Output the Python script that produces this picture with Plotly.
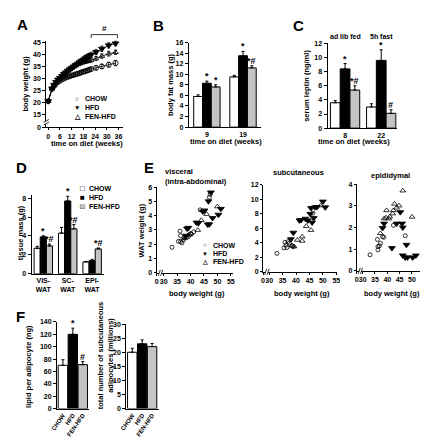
import plotly.graph_objects as go

W, H = 428, 440
FAM = "Liberation Sans, Arial, sans-serif"

# ---------------- data ----------------
GROUPS = ["CHOW", "HFD", "FEN-HFD"]
COLORS = ["white", "black", "#c4c4c4"]

# A: body weight over time
a_weeks = [0, 2, 3, 4, 5, 6, 7, 8, 9, 10, 11, 12, 13, 14, 15, 16, 17, 18, 19, 20, 21, 22, 24.5, 27.5, 31, 34.5]
a_chow = [20.5, 25.6, 26.8, 27.8, 28.5, 29.0, 29.5, 29.9, 30.3, 30.6, 30.9, 31.2, 31.4, 31.7, 31.9, 32.2, 32.5, 32.8, 33.0, 33.3, 33.6, 33.9, 34.4, 35.0, 35.7, 36.4]
a_hfd = [20.5, 25.8, 27.3, 28.5, 29.5, 30.2, 31.0, 31.8, 32.5, 33.2, 33.8, 34.4, 35.0, 35.6, 36.1, 36.7, 37.3, 37.8, 38.3, 38.9, 39.4, 39.9, 41.0, 42.4, 43.8, 44.6]
a_fen = [20.5, 25.7, 27.1, 28.3, 29.2, 30.0, 30.8, 31.6, 32.3, 33.0, 33.6, 34.2, 34.8, 35.3, 35.8, 36.2, 36.5, 36.8, 37.0, 37.2, 37.4, 37.6, 38.3, 39.3, 40.3, 40.9]
a_chow_err = [0.3, 0.4, 0.4, 0.4, 0.4, 0.5, 0.5, 0.5, 0.5, 0.5, 0.6, 0.6, 0.6, 0.6, 0.7, 0.7, 0.7, 0.7, 0.8, 0.8, 0.8, 0.8, 0.9, 0.9, 1.0, 1.1]
a_hfd_err = [0.3, 0.4, 0.4, 0.5, 0.5, 0.5, 0.6, 0.6, 0.7, 0.7, 0.7, 0.8, 0.8, 0.8, 0.9, 0.9, 1.0, 1.2, 1.2, 1.1, 1.0, 1.0, 1.0, 1.1, 1.1, 1.0]
a_fen_err = [0.3, 0.4, 0.4, 0.4, 0.5, 0.5, 0.5, 0.5, 0.6, 0.6, 0.6, 0.6, 0.7, 0.7, 0.7, 0.7, 0.8, 0.8, 0.8, 0.8, 0.8, 0.8, 0.9, 0.9, 1.0, 0.9]
a_xticks = [0, 6, 12, 18, 24, 30, 36]
a_yticks = [15, 20, 25, 30, 35, 40, 45]
a_sig_span = [22, 35.5]

# B: body fat mass
b_weeks = ["9", "19"]
b_vals = [[5.8, 9.5], [8.3, 13.5], [7.6, 11.2]]
b_errs = [[0.3, 0.3], [0.4, 0.8], [0.4, 0.4]]
b_sigs = [["", ""], ["*", "*"], ["*", "*#"]]

# C: serum leptin
c_weeks = ["8", "22"]
c_conditions = ["ad lib fed", "5h fast"]
c_vals = [[3.6, 3.0], [8.4, 9.6], [5.4, 2.1]]
c_errs = [[0.3, 0.45], [0.75, 1.5], [0.6, 0.5]]
c_sigs = [["", ""], ["*", "*"], ["*#", "#"]]

# D: tissue mass
d_tissues = ["VIS-<br>WAT", "SC-<br>WAT", "EPI-<br>WAT"]
d_vals = [[2.7, 4.3, 1.25], [3.9, 7.7, 1.4], [2.95, 4.75, 2.63]]
d_errs = [[0.2, 0.6, 0.06], [0.12, 0.5, 0.12], [0.2, 0.45, 0.1]]
d_sigs = [["", "", ""], ["*", "*", ""], ["*#", "*#", "*#"]]

# E: WAT weight vs body weight
e_titles = ["visceral<br>(intra-abdominal)", "subcutaneous", "epididymal"]
ev_chow_x = [33.1, 35.5, 36.1, 36.3, 36.3, 36.8, 37.3, 37.8, 40.3, 41.2, 43.6, 47.0, 47.3]
ev_chow_y = [1.79, 2.2, 2.92, 2.6, 2.19, 2.1, 2.3, 2.45, 2.71, 2.87, 4.41, 5.29, 5.5]
ev_hfd_x = [38.3, 38.7, 39.2, 42.2, 42.9, 44.6, 45.2, 46.4, 47.0, 48.2, 46.7, 47.6, 51.3, 50.4]
ev_hfd_y = [2.6, 3.1, 3.15, 3.52, 3.48, 4.3, 4.37, 3.38, 3.4, 3.84, 5.01, 5.63, 4.48, 4.07]
ev_fen_x = [37.9, 38.6, 39.0, 39.5, 40.0, 42.7, 44.0, 46.0, 50.0]
ev_fen_y = [2.41, 2.5, 2.6, 2.69, 2.75, 2.99, 3.68, 4.11, 4.64]

es_chow_x = [32.9, 35.5, 35.9, 36.3, 36.6, 37.0, 37.5, 38.5, 39.0, 46.3]
es_chow_y = [2.54, 3.3, 4.08, 3.7, 3.35, 4.15, 3.94, 3.6, 3.45, 8.1]
es_hfd_x = [38.1, 39.0, 41.3, 41.9, 43.5, 44.4, 45.3, 45.6, 46.0, 46.6, 47.1, 47.8, 50.0, 50.9]
es_hfd_y = [4.5, 5.4, 7.1, 7.15, 7.33, 7.1, 8.0, 8.8, 6.8, 7.43, 8.9, 8.95, 9.7, 8.9]
es_fen_x = [38.5, 39.3, 40.5, 42.3, 42.3, 43.8, 45.6, 49.2]
es_fen_y = [3.6, 3.49, 4.39, 4.26, 4.85, 6.3, 5.75, 9.15]

ee_chow_x = [33.0, 36.0, 36.2, 36.2, 36.8, 37.2, 38.1, 38.6, 42.5, 47.3]
ee_chow_y = [0.74, 1.45, 1.12, 0.97, 1.15, 1.27, 1.58, 1.55, 2.1, 1.62]
ee_hfd_x = [38.1, 38.7, 41.9, 43.8, 45.3, 46.0, 46.3, 47.8, 46.3, 47.3, 48.2, 50.3, 51.6]
ee_hfd_y = [1.98, 2.18, 1.05, 2.18, 2.71, 2.18, 2.0, 1.2, 0.71, 0.62, 0.62, 0.62, 0.71]
ee_fen_x = [37.2, 38.7, 39.5, 39.7, 40.6, 41.0, 42.2, 42.5, 42.9, 43.8, 44.8, 46.3, 50.1]
ee_fen_y = [1.73, 2.41, 2.45, 2.79, 2.41, 2.5, 2.64, 2.79, 3.09, 2.91, 3.01, 3.7, 2.49]
e_xticks = [30, 35, 40, 45, 50, 55]

# F: adipocytes
f_lipid = [70, 120, 71]
f_lipid_err = [9, 10, 5]
f_lipid_sig = ["", "*", "#"]
f_number = [20.1, 23.1, 22.1]
f_number_err = [1.4, 1.4, 1.1]

# ---------------- helpers ----------------
def xd(p0, p1):
    return [p0 / W, p1 / W]

def yd(top, bot):
    return [1 - bot / H, 1 - top / H]

def PX(x):
    return x / W

def PY(y):
    return 1 - y / H

TICKF = dict(size=7, family=FAM, color="black", weight="bold")

def axis(domain, rng, anchor, **kw):
    d = dict(domain=domain, range=rng, anchor=anchor, showline=True, linecolor="black",
             linewidth=1, ticks="outside", ticklen=3, tickwidth=1, tickcolor="black",
             showgrid=False, zeroline=False, tickfont=TICKF, fixedrange=True, tickangle=0)
    d.update(kw)
    return d

fig = go.Figure()
layout_axes = {}

def set_axes(n, xdom, ydom, xr, yr, xkw=None, ykw=None):
    xk = "xaxis" if n == 1 else f"xaxis{n}"
    yk = "yaxis" if n == 1 else f"yaxis{n}"
    xa = "x" if n == 1 else f"x{n}"
    ya = "y" if n == 1 else f"y{n}"
    layout_axes[xk] = axis(xdom, xr, ya, **(xkw or {}))
    layout_axes[yk] = axis(ydom, yr, xa, **(ykw or {}))
    return xa, ya

annos = []
shapes = []

def text(x, y, s, size=7.5, angle=0, xanchor="center", yanchor="middle", color="black", **kw):
    annos.append(dict(x=PX(x), y=PY(y), xref="paper", yref="paper", text=s, showarrow=False,
                      textangle=angle, xanchor=xanchor, yanchor=yanchor,
                      font=dict(size=size, family=FAM, color=color, weight="bold"), **kw))

def grouped_bars(xa, ya, vals, errs, sigs, width):
    for i in range(3):
        off = -1.5 * width + i * width
        n = len(vals[i])
        fig.add_trace(go.Bar(
            x=list(range(n)), y=vals[i], width=width, offset=off,
            marker=dict(color=COLORS[i], line=dict(color="black", width=1)),
            error_y=dict(type="data", array=errs[i], arrayminus=[0] * n, symmetric=False,
                         color="black", thickness=1, width=1.5),
            xaxis=xa, yaxis=ya, showlegend=False, name=GROUPS[i]))
        for j, s in enumerate(sigs[i]):
            if s:
                annos.append(dict(x=j + off + width / 2, y=vals[i][j] + errs[i][j], xref=xa, yref=ya,
                                  text=s, showarrow=False, yanchor="bottom", yshift=-2,
                                  font=dict(size=9, family=FAM, color="black", weight="bold")))

def break_marks(xref, yref, x0, x1, y0, y1, dx, dy):
    # two parallel slanted strokes marking an axis break
    for k in range(2):
        shapes.append(dict(type="line", xref=xref, yref=yref,
                           x0=x0 + k * dx, x1=x1 + k * dx, y0=y0 + k * dy, y1=y1 + k * dy,
                           line=dict(color="black", width=0.8), layer="above"))

# ---------------- Panel A ----------------
a_ylo = 15 - 13 / 2.433
xa, ya = set_axes(1, xd(33, 112), yd(29, 117), [-1, 38.5], [a_ylo, 45.8],
                  xkw=dict(tickvals=a_xticks, ticklen=2),
                  ykw=dict(tickvals=[a_ylo] + a_yticks, ticktext=["0"] + [str(v) for v in a_yticks]))
a_series = [(a_chow, a_chow_err, "circle-open", 5), (a_hfd, a_hfd_err, "triangle-down", 6),
            (a_fen, a_fen_err, "triangle-up-open", 5)]
for (vals, errs, sym, sz) in a_series:
    fig.add_trace(go.Scatter(
        x=a_weeks, y=vals, mode="lines+markers",
        line=dict(color="black", width=0.8),
        marker=dict(symbol=sym, size=sz, color="black", line=dict(color="black", width=0.8)),
        error_y=dict(type="data", array=errs, color="black", thickness=0.8, width=1.5),
        xaxis=xa, yaxis=ya, showlegend=False, cliponaxis=False))
# significance bracket
shapes.append(dict(type="line", xref="x", yref="paper", x0=a_sig_span[0], x1=a_sig_span[1],
                   y0=PY(23), y1=PY(23), line=dict(color="black", width=0.8)))
for xv in a_sig_span:
    shapes.append(dict(type="line", xref="x", yref="paper", x0=xv, x1=xv,
                       y0=PY(23), y1=PY(26.5), line=dict(color="black", width=0.8)))
annos.append(dict(x=sum(a_sig_span) / 2, y=PY(23), xref="x", yref="paper", text="#", showarrow=False,
                  yanchor="bottom", font=dict(size=8, family=FAM, color="black", weight="bold")))
# y-axis break
shapes.append(dict(type="rect", xref="x domain", yref="y", x0=-0.02, x1=0.02,
                   y0=a_ylo + 1.3, y1=a_ylo + 2.5, line=dict(width=0), fillcolor="white", layer="above"))
break_marks("x domain", "y", -0.035, 0.035, a_ylo + 0.9, a_ylo + 2.1, 0, 1.1)
text(12, 73, "body weight (g)", size=7.5, angle=-90)
text(75, 134, "time on diet (weeks)", size=7.5)
text(65, 88, "○", size=6.5)
text(65, 97, "▼", size=6.5)
text(65, 106, "△", size=6.5)
text(71, 88, "CHOW", size=7, xanchor="left")
text(71, 97, "HFD", size=7, xanchor="left")
text(71, 106, "FEN-HFD", size=7, xanchor="left")

# ---------------- Panel B ----------------
bw = 9 / 37
xa, ya = set_axes(2, xd(179, 253), yd(31, 117), [-0.5, 1.5], [0, 16],
                  xkw=dict(tickvals=[0, 1], ticktext=b_weeks, ticks=""),
                  ykw=dict(dtick=2))
grouped_bars(xa, ya, b_vals, b_errs, b_sigs, bw)
text(161, 74, "body fat mass (g)", size=7.5, angle=-90)
text(217, 132, "time on diet (weeks)", size=7.5)

# ---------------- Panel C ----------------
cw = 10 / 37
xa, ya = set_axes(3, xd(321, 392), yd(32, 118), [-18 / 37, 53 / 37], [0, 12],
                  xkw=dict(tickvals=[0, 1], ticktext=c_weeks, ticks=""),
                  ykw=dict(dtick=2))
grouped_bars(xa, ya, c_vals, c_errs, c_sigs, cw)
for j, cond in enumerate(c_conditions):
    annos.append(dict(x=j, y=PY(19), xref="x3", yref="paper", text=cond, showarrow=False,
                      font=dict(size=7, family=FAM, color="black", weight="bold")))
text(300, 75, "serum leptin (ng/ml)", size=7.5, angle=-90)
text(348, 132, "time on diet (weeks)", size=7.5)

# ---------------- Panel D ----------------
dw = 6.3 / 25
xa, ya = set_axes(4, xd(18, 92), yd(186, 266), [-12 / 25, 62 / 25], [0, 8.33],
                  xkw=dict(tickvals=[0, 1, 2], ticktext=d_tissues, ticks=""),
                  ykw=dict(dtick=2))
grouped_bars(xa, ya, d_vals, d_errs, d_sigs, dw)
text(7, 224, "tissue mass (g)", size=7.5, angle=-90)
text(70.5, 179, "□", size=8)
text(70.5, 189, "■", size=8)
text(70.5, 198, "■", size=8, color="#c4c4c4")
text(70.5, 198, "□", size=8)
text(75, 179, "CHOW", size=7, xanchor="left")
text(75, 189, "HFD", size=7, xanchor="left")
text(75, 198, "FEN-HFD", size=7, xanchor="left")

# ---------------- Panel E ----------------
e_specs = [
    (5, (146, 224), (178, 265), 2.75, 153.25, [0, 6], 1,
     [(ev_chow_x, ev_chow_y), (ev_hfd_x, ev_hfd_y), (ev_fen_x, ev_fen_y)]),
    (6, (255, 331), (175.7, 264), 2.75, 261.25, [0, 12], 2,
     [(es_chow_x, es_chow_y), (es_hfd_x, es_hfd_y), (es_fen_x, es_fen_y)]),
    (7, (351, 420), (175, 263), 2.52, 357, [0, 4], 1,
     [(ee_chow_x, ee_chow_y), (ee_hfd_x, ee_hfd_y), (ee_fen_x, ee_fen_y)]),
]
e_markers = [("circle-open", 4), ("triangle-down", 6), ("triangle-up-open", 5)]
for (n, (l, r), (t, b), ppu, p30, yr, dt, series) in e_specs:
    lo = 30 - (p30 - l) / ppu
    hi = 30 + (r - p30) / ppu
    xa, ya = set_axes(n, xd(l, r), yd(t, b), [lo, hi], yr,
                      xkw=dict(tickvals=[lo] + e_xticks, ticktext=["0"] + [str(v) for v in e_xticks], ticklen=2),
                      ykw=dict(dtick=dt, ticklen=2))
    for (xs, ys), (sym, sz) in zip(series, e_markers):
        fig.add_trace(go.Scatter(x=xs, y=ys, mode="markers",
                                 marker=dict(symbol=sym, size=sz, color="black", line=dict(color="black", width=0.8)),
                                 xaxis=xa, yaxis=ya, showlegend=False, cliponaxis=False))
    shapes.append(dict(type="rect", xref=xa, yref=f"{ya} domain", x0=lo + 0.9, x1=lo + 1.9,
                       y0=-0.02, y1=0.02, line=dict(width=0), fillcolor="white", layer="above"))
    break_marks(xa, f"{ya} domain", lo + 0.6, lo + 1.4, -0.035, 0.035, 0.9, 0)
    text((l + r) / 2 + 2, 286, "body weight (g)", size=7.5)

text(153, 167, e_titles[0], size=7.5, xanchor="left", align="left")
text(291, 163, e_titles[1], size=7.5)
text(385, 166, e_titles[2], size=7.5)
text(131, 222, "WAT weight (g)", size=7.5, angle=-90)
text(196, 237, "○", size=6)
text(196, 245.5, "▼", size=6)
text(196, 254, "△", size=6)
text(202, 237, "CHOW", size=7, xanchor="left")
text(202, 245.5, "HFD", size=7, xanchor="left")
text(202, 254, "FEN-HFD", size=7, xanchor="left")

# ---------------- Panel F ----------------
for n, (l, r), (t, b), rng, vals, errs, dt, sigs in [
    (8, (44, 77), (315, 403), [0, 140], f_lipid, f_lipid_err, 20, f_lipid_sig),
    (9, (115, 148), (317.5, 403), [0, 30], f_number, f_number_err, 5, ["", "", ""]),
]:
    xa, ya = set_axes(n, xd(l, r), yd(t, b), [-0.6, 2.65], rng,
                      xkw=dict(tickvals=[0, 1, 2], ticktext=GROUPS, tickangle=-55, ticks="",
                               tickfont=dict(size=6, family=FAM, color="black", weight="bold")),
                      ykw=dict(dtick=dt))
    fig.add_trace(go.Bar(x=[0, 1, 2], y=vals, width=0.95,
                         marker=dict(color=COLORS, line=dict(color="black", width=1)),
                         error_y=dict(type="data", array=errs, arrayminus=[0, 0, 0], symmetric=False,
                                      color="black", thickness=1, width=1.5),
                         xaxis=xa, yaxis=ya, showlegend=False))
    for j, s in enumerate(sigs):
        if s:
            annos.append(dict(x=j, y=vals[j] + errs[j], xref=xa, yref=ya, text=s, showarrow=False,
                              yanchor="bottom", yshift=-2,
                              font=dict(size=9, family=FAM, color="black", weight="bold")))
text(15, 360, "lipid per adipocyte (ng)", size=7.5, angle=-90)
text(94, 349, "total number of subcutaneous<br>adipocytes (millions)", size=7.5, angle=-90)

# ---------------- panel letters ----------------
for L, x, y in [("A", 9, 13), ("B", 148, 14), ("C", 291, 14), ("D", 8, 158), ("E", 138, 158), ("F", 7, 309)]:
    text(x, y, L, size=15)

fig.update_layout(
    width=W, height=H, margin=dict(l=0, r=0, t=0, b=0),
    paper_bgcolor="white", plot_bgcolor="white",
    font=dict(family=FAM, size=7.5, color="black", weight="bold"),
    barmode="overlay", showlegend=False,
    annotations=annos, shapes=shapes,
    **layout_axes,
)
fig.write_html("out.html")
